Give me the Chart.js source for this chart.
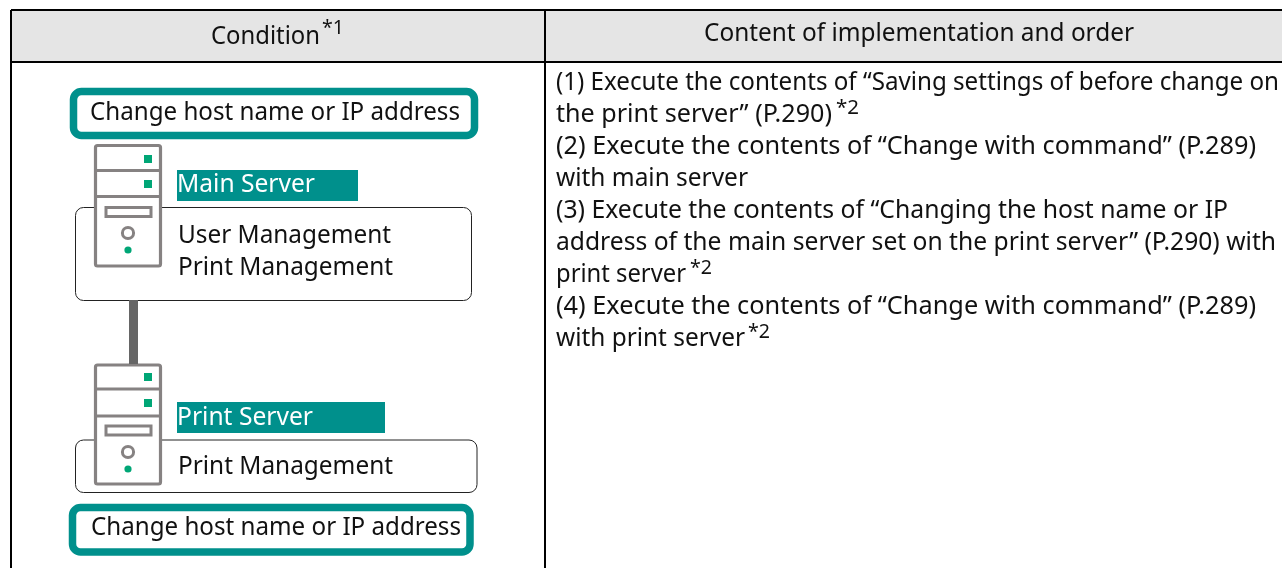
<!DOCTYPE html>
<html><head><meta charset="utf-8">
<style>html,body{margin:0;padding:0;background:#fff;overflow:hidden}#w{width:1282px;height:568px;position:relative}canvas{display:block}</style>
<script src="https://cdn.jsdelivr.net/npm/chart.js@4"></script>
</head><body><div id="w"><canvas id="c" width="1282" height="568"></canvas></div>
<script>
// Text content: [text, x0, x1, baseline, colour, size]
const headerTexts = [
  ["Condition",211,320,44,"#111",26],["*1",322,344,34,"#111",20],
  ["Content of implementation and order",704,1134,41,"#111",26]
];
const stepTexts = [
  ["(1) Execute the contents of “Saving settings of before change on",556,1279,90,"#111",26],
  ["the print server” (P.290)",556,832,122,"#111",26],["*2",836,859,114,"#111",20],
  ["(2) Execute the contents of “Change with command” (P.289)",556,1256,154,"#111",26],
  ["with main server",556,748,186,"#111",26],
  ["(3) Execute the contents of “Changing the host name or IP",556,1228,218,"#111",26],
  ["address of the main server set on the print server” (P.290) with",556,1276,250,"#111",26],
  ["print server",556,686,282,"#111",26],["*2",690,712,274,"#111",20],
  ["(4) Execute the contents of “Change with command” (P.289)",556,1256,314,"#111",26],
  ["with print server",556,745,346,"#111",26],["*2",748,770,338,"#111",20]
];
const diagramTexts = [
  ["Change host name or IP address",90,460,120,"#111",26],
  ["Main Server",177,315,192,"#fff",26],
  ["User Management",178,391,243,"#111",26],
  ["Print Management",178,393,275,"#111",26],
  ["Print Server",177,313,425,"#fff",26],
  ["Print Management",178,393,474,"#111",26],
  ["Change host name or IP address",91,461,535,"#111",26]
];
// Boxes: [x0,y0,x1,y1,radius,fill,stroke,lineWidth]
const headerCells = [[10,10,1300,62,0,"#e5e5e5",null,0]];
const frames = [[75.5,207.5,471.5,300.5,8,"#fff","#222",1],[75.5,440,477,492.5,8,"#fff","#222",1]];
const tealBoxes = [[73.5,91.5,474.5,135.5,8,"#fff","#00908c",7.5],[72.5,507.5,470,552,8,"#fff","#00908c",7.5]];
const labelFills = [[177,170,358,201,0,"#00908c",null,0],[177,402,385,433,0,"#00908c",null,0]];
const connector = [[133.5,300],[133.5,364]];
const tableLines = [[[11,10],[1282,10]],[[11,62],[1282,62]],[[11,10],[11,568]],[[545,10],[545,568]]];
// Server icon: outer box + dividers + slot
const serverTops = [[95.5,145.5,160.5,266,170.5,196.5,207.5,216.5],[95.5,365,160.5,484,389,416,426,435]];
const ledSquares = [{x:148,y:159},{x:148,y:184},{x:148,y:377},{x:148,y:403}];
const ledDots = [{x:128,y:250},{x:128,y:469}];
const ringDots = [{x:128,y:233},{x:128,y:452}];

const FONT = '"Noto Sans","Noto Sans CJK JP",sans-serif';
const GREY = "#868282", GREEN = "#00a676";

function rr(ctx,sx,sy,b){
  const [x0,y0,x1,y1,r,fill,stroke,lw]=b;
  const X0=sx.getPixelForValue(x0),X1=sx.getPixelForValue(x1),Y0=sy.getPixelForValue(y0),Y1=sy.getPixelForValue(y1);
  ctx.beginPath();ctx.roundRect(X0,Y0,X1-X0,Y1-Y0,r);
  if(fill){ctx.fillStyle=fill;ctx.fill();}
  if(stroke){ctx.strokeStyle=stroke;ctx.lineWidth=lw;ctx.stroke();}
}
function txt(ctx,sx,sy,t){
  const [s,x0,x1,base,col,size]=t;
  ctx.save();
  ctx.font=size+'px '+FONT;ctx.fillStyle=col;ctx.textBaseline='alphabetic';
  const X0=sx.getPixelForValue(x0),X1=sx.getPixelForValue(x1),Y=sy.getPixelForValue(base);
  const w=ctx.measureText(s).width;
  ctx.translate(X0,Y);ctx.scale((X1-X0)/w,1);ctx.fillText(s,0,0);
  ctx.restore();
}
const under={id:'under',beforeDatasetsDraw(ch){
  const c=ch.ctx,sx=ch.scales.x,sy=ch.scales.y;
  c.save();
  headerCells.forEach(b=>rr(c,sx,sy,b));
  tealBoxes.forEach(b=>rr(c,sx,sy,b));
  labelFills.forEach(b=>rr(c,sx,sy,b));
  frames.forEach(b=>rr(c,sx,sy,b));
  serverTops.forEach(a=>{
    const [x0,y0,x1,y1,d1,d2,s0,s1]=a;
    rr(c,sx,sy,[x0,y0,x1,y1,2,"#fff",GREY,3.2]);
    [d1,d2].forEach(d=>{c.strokeStyle=GREY;c.lineWidth=3;c.beginPath();c.moveTo(sx.getPixelForValue(x0),sy.getPixelForValue(d));c.lineTo(sx.getPixelForValue(x1),sy.getPixelForValue(d));c.stroke();});
    rr(c,sx,sy,[106,s0,151,s1,0,"#fff",GREY,3]);
  });
  c.restore();
},afterDatasetsDraw(ch){
  const c=ch.ctx,sx=ch.scales.x,sy=ch.scales.y;
  headerTexts.concat(stepTexts,diagramTexts).forEach(t=>txt(c,sx,sy,t));
}};
const lineDs=(pts,color,w)=>({type:'line',data:pts.map(p=>({x:p[0],y:p[1]})),borderColor:color,borderWidth:w,pointRadius:0,fill:false,tension:0});
new Chart(document.getElementById('c'),{
  type:'scatter',
  data:{datasets:[
    ...tableLines.map(l=>lineDs(l,"#000",2)),
    lineDs(connector,"#666",9),
    {data:ledSquares,pointStyle:'rect',pointRadius:5.7,backgroundColor:GREEN,borderWidth:0},
    {data:ledDots,pointStyle:'circle',pointRadius:3.6,backgroundColor:GREEN,borderWidth:0},
    {data:ringDots,pointStyle:'circle',pointRadius:5.6,backgroundColor:'#fff',borderColor:GREY,borderWidth:3}
  ]},
  options:{responsive:false,animation:false,
    layout:{padding:0,autoPadding:false},
    plugins:{legend:{display:false},tooltip:{enabled:false},title:{display:false}},
    scales:{x:{type:'linear',min:0,max:1282,display:false},y:{type:'linear',min:0,max:568,reverse:true,display:false}}
  },
  plugins:[under]
});
</script></body></html>
